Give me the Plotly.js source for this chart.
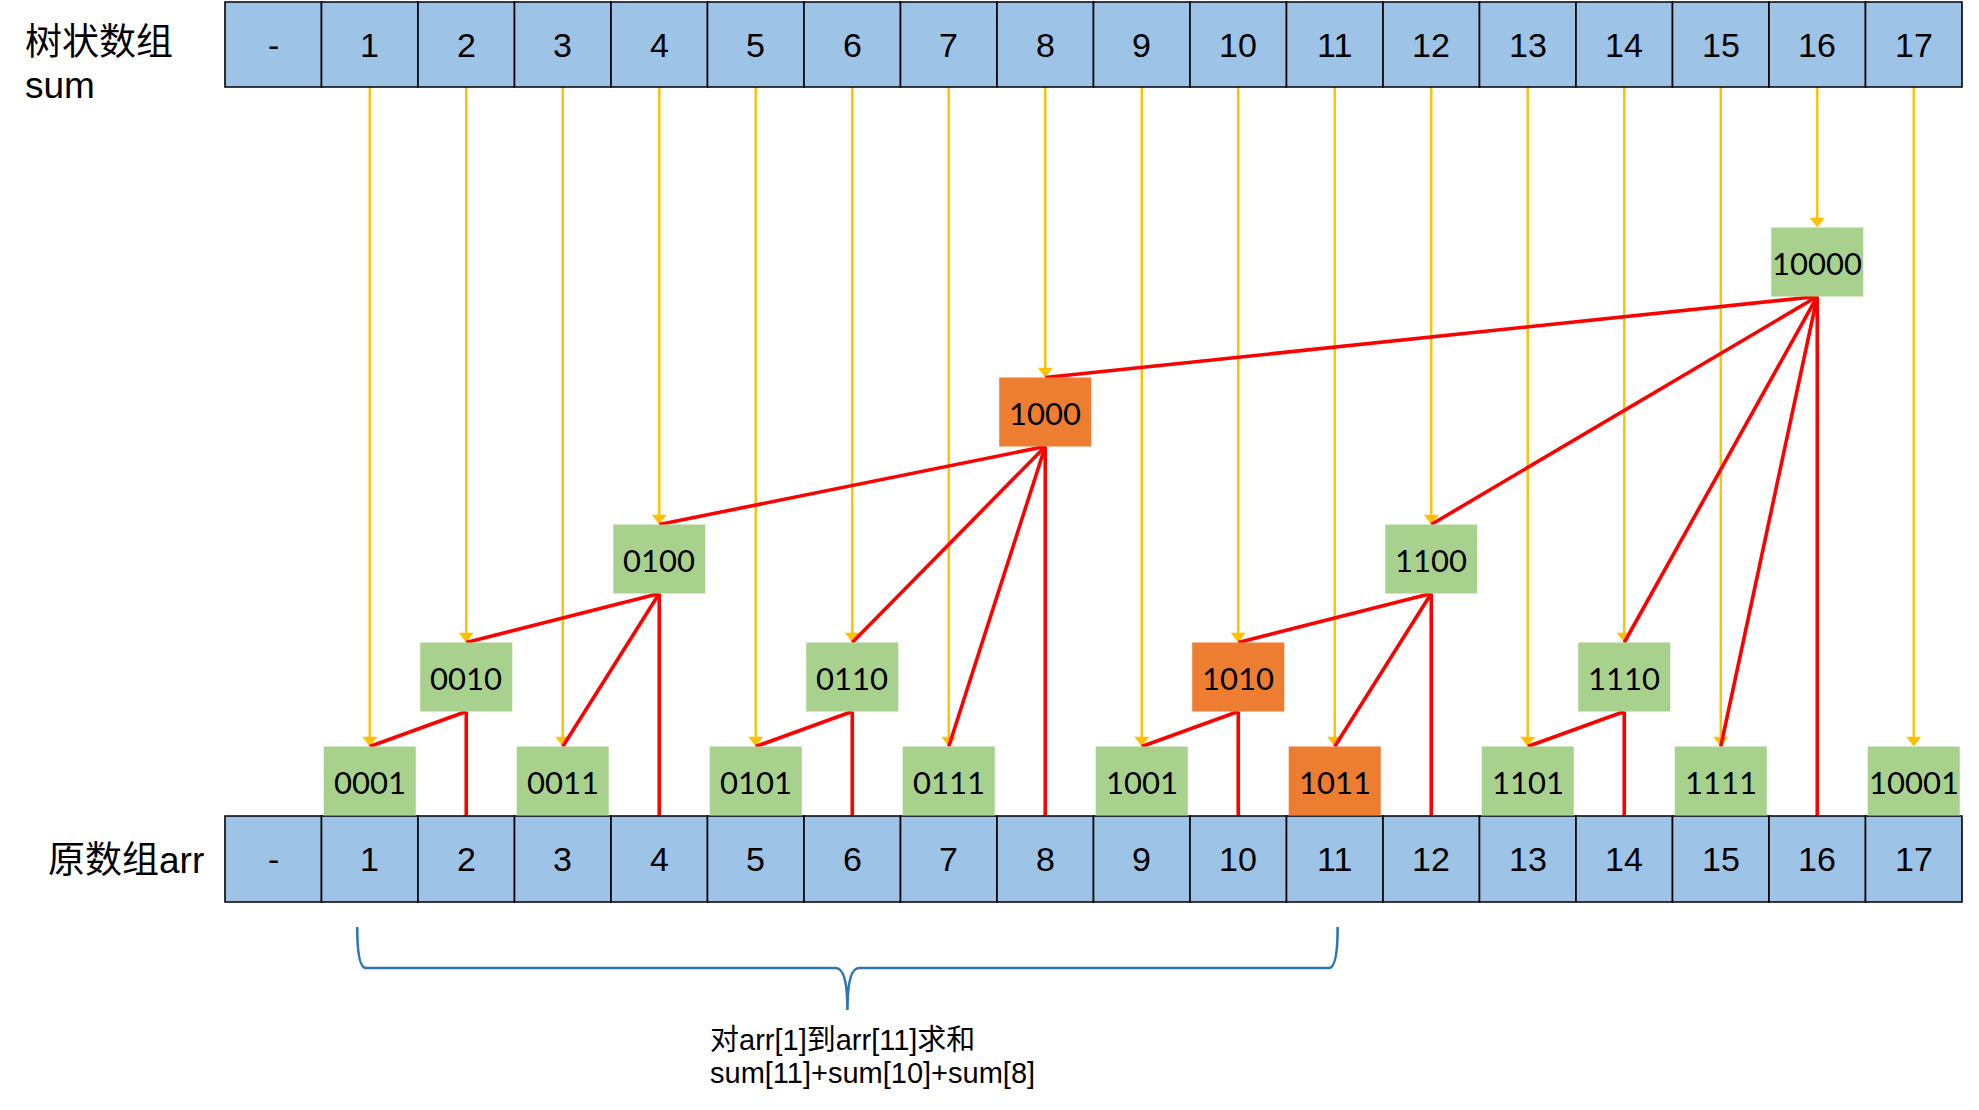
<!DOCTYPE html>
<html>
<head>
<meta charset="utf-8">
<script src="https://cdn.plot.ly/plotly-3.0.1.min.js"></script>
<style>html,body{margin:0;padding:0;background:#fff;}#chart{width:1979px;height:1110px;}</style>
</head>
<body>
<div id="chart"></div>
<script>
// ---------------- data ----------------
const cellLabels = ['-','1','2','3','4','5','6','7','8','9','10','11','12','13','14','15','16','17'];
const nodeIds = [1,2,3,4,5,6,7,8,9,10,11,12,13,14,15,16,17];
const nodeBits = ['0001','0010','0011','0100','0101','0110','0111','1000','1001','1010','1011','1100','1101','1110','1111','10000','10001'];
const queryNodes = [11, 10, 8];
const queryRange = [1, 11];
const sumLabel = ['树状数组', 'sum'];
const arrLabel = '原数组arr';
const noteLines = ['对arr[1]到arr[11]求和', 'sum[11]+sum[10]+sum[8]'];

// ---------------- layout constants ----------------
const W = 1979, H = 1110;
const LEFT_PX = 225, CELL_PX = 96.5;
const xMin = -0.5 - LEFT_PX / CELL_PX;
const xMax = xMin + W / CELL_PX;
const topRow = [2, 87], botRow = [816, 902];
const levelCY = [781, 677, 559, 412, 262];
const boxHalfH = 34.5, boxHalfW = 0.477;
const C = {cell:'#9DC3E6', green:'#A9D18E', orange:'#ED7D31', arrow:'#FFC000', red:'#FF0000', brace:'#2E75B6'};

const lowbit = i => i & (-i);
const nodeGeom = {};
nodeIds.forEach(id => {
  const lvl = Math.round(Math.log2(lowbit(id)));
  const cy = levelCY[lvl];
  nodeGeom[id] = {cy, top: cy - boxHalfH, bottom: cy + boxHalfH};
});

const shapes = [];
const annotations = [];

// arrays (top: sum, bottom: arr)
[topRow, botRow].forEach(row => {
  cellLabels.forEach((lab, i) => {
    shapes.push({type:'rect', xref:'x', yref:'y', x0:i-0.5, x1:i+0.5, y0:row[0], y1:row[1],
      fillcolor:C.cell, line:{color:'#000', width:1.6}, layer:'above'});
    annotations.push({xref:'x', yref:'y', x:i, y:(row[0]+row[1])/2, text:lab, showarrow:false,
      font:{family:'Liberation Sans, Arial, sans-serif', size:34, color:'#000'}, xanchor:'center', yanchor:'middle'});
  });
});

// node boxes
nodeIds.forEach((id, k) => {
  const g = nodeGeom[id];
  shapes.push({type:'rect', xref:'x', yref:'y', x0:id-boxHalfW, x1:id+boxHalfW, y0:g.top, y1:g.bottom,
    fillcolor: queryNodes.includes(id) ? C.orange : C.green, line:{width:0}, layer:'above'});
  annotations.push({xref:'x', yref:'y', x:id, y:g.cy+1, text:nodeBits[k], showarrow:false,
    font:{family:'Lato, Carlito, sans-serif', size:31, color:'#000'}, xanchor:'center', yanchor:'middle'});
});

// orange arrows from sum cells to nodes
const ax = [], ay = [], hx = [], hy = [];
nodeIds.forEach(id => {
  const g = nodeGeom[id];
  ax.push(id, id, null); ay.push(topRow[1], g.top - 8, null);
  hx.push(id); hy.push(g.top - 6.5);
});

// red tree edges
const rx = [], ry = [];
nodeIds.forEach(id => {
  const lb = lowbit(id);
  if (lb === 1) return;
  const g = nodeGeom[id];
  for (let k = lb / 2; k >= 1; k /= 2) {
    const c = id - k;
    rx.push(id, c, null); ry.push(g.bottom, nodeGeom[c].top, null);
  }
  rx.push(id, id, null); ry.push(g.bottom, botRow[0], null);
});

const traces = [
  {x:ax, y:ay, mode:'lines', line:{color:C.arrow, width:2.4}, hoverinfo:'skip', showlegend:false},
  {x:hx, y:hy, mode:'markers', marker:{symbol:'triangle-down', size:13, color:C.arrow}, hoverinfo:'skip', showlegend:false},
  {x:rx, y:ry, mode:'lines', line:{color:C.red, width:3.6}, hoverinfo:'skip', showlegend:false}
];

// brace under the query range
const xl = queryRange[0] - 0.13, xr = queryRange[1] + 0.03, xm = (xl + xr) / 2;
const bTop = 927, bMid = 968, bTip = 1010;
shapes.push({type:'path', xref:'x', yref:'y', layer:'above', line:{color:C.brace, width:2.6},
  path:`M ${xl},${bTop} Q ${xl},${bMid} ${xl+0.09},${bMid} L ${xm-0.12},${bMid} Q ${xm},${bMid} ${xm},${bTip} ` +
       `M ${xm},${bTip} Q ${xm},${bMid} ${xm+0.12},${bMid} L ${xr-0.09},${bMid} Q ${xr},${bMid} ${xr},${bTop}`});

// side labels and note
const lf = 'Liberation Sans, Arial, Noto Sans CJK SC, sans-serif';
annotations.push({xref:'paper', yref:'y', x:23/W, y:42, text:sumLabel[0], showarrow:false, xanchor:'left', yanchor:'middle',
  font:{family:lf, size:37, color:'#000'}});
annotations.push({xref:'paper', yref:'y', x:23/W, y:85, text:sumLabel[1], showarrow:false, xanchor:'left', yanchor:'middle',
  font:{family:lf, size:37, color:'#000'}});
annotations.push({xref:'paper', yref:'y', x:206/W, y:860, text:arrLabel, showarrow:false, xanchor:'right', yanchor:'middle',
  font:{family:lf, size:37, color:'#000'}});
noteLines.forEach((t, i) => {
  annotations.push({xref:'x', yref:'y', x:4.51, y:1040 + i*33, text:t, showarrow:false, xanchor:'left', yanchor:'middle',
    font:{family:lf, size:29, color:'#000'}});
});

const layout = {
  width:W, height:H, margin:{l:0, r:0, t:0, b:0}, paper_bgcolor:'#fff', plot_bgcolor:'#fff',
  xaxis:{range:[xMin, xMax], visible:false, fixedrange:true},
  yaxis:{range:[H, 0], visible:false, fixedrange:true},
  shapes, annotations, showlegend:false
};
Plotly.newPlot('chart', traces, layout, {displayModeBar:false, staticPlot:true});
</script>
</body>
</html>
